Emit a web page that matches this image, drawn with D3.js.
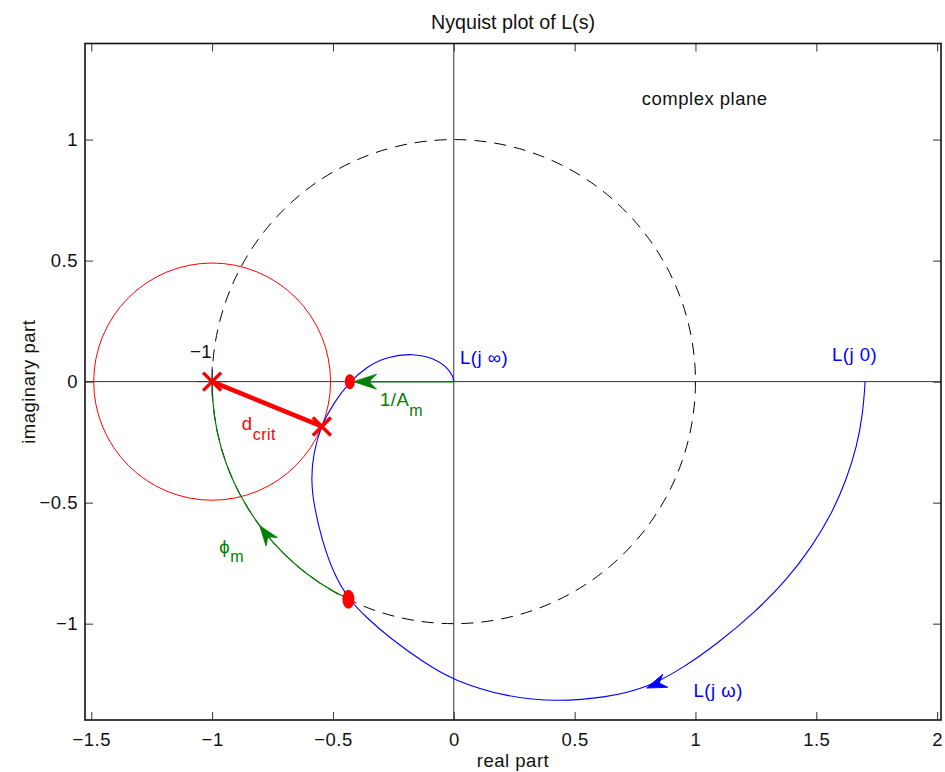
<!doctype html>
<html>
<head>
<meta charset="utf-8">
<script src="https://d3js.org/d3.v7.min.js"></script>
<style>
  body { margin: 0; background: #fff; }
  svg text { font-family: "Liberation Sans", Arial, Helvetica, sans-serif; letter-spacing: 0.5px; }
</style>
</head>
<body>
<div class="graph"></div>
<script>
// Nyquist curve L(jw) (real, imaginary)
var nyqRe = [1.702, 1.693, 1.668, 1.624, 1.565, 1.482, 1.378, 1.247, 1.094, 0.949, 0.798, 0.633,
             0.426, 0.219, 0.001, -0.126, -0.264, -0.361, -0.436, -0.498, -0.546, -0.578,
             -0.591, -0.581, -0.550, -0.498, -0.430, -0.360, -0.277, -0.167, -0.084, -0.029, -0.002, 0];
var nyqIm = [0, -0.131, -0.269, -0.406, -0.544, -0.682, -0.819, -0.952, -1.080, -1.183, -1.266, -1.305,
             -1.323, -1.303, -1.236, -1.159, -1.060, -0.975, -0.899, -0.792, -0.654, -0.516,
             -0.406, -0.296, -0.184, -0.089, 0, 0.062, 0.103, 0.117, 0.097, 0.062, 0.021, 0];

var xTicks = [-1.5, -1, -0.5, 0, 0.5, 1, 1.5, 2];
var yTicks = [-1, -0.5, 0, 0.5, 1];

var critPoint = [-1, 0];
var dcritPoint = [-0.546, -0.185];
var dcritRadius = 0.49;
var unitRadius = 1;
var gmPoint = [-0.43, 0];
var gmArrowTip = -0.415;
var pmPoint = [-0.436, -0.899];
var pmArrowAngle = -143.4;          // degrees, on the unit circle
var omegaArrow = [[0.87, -1.238], [0.798, -1.266]];   // tail -> tip

var width = 945, height = 772;
var pLeft = 85, pRight = 941, pTop = 43.5, pBottom = 720;

var svg = d3.select('.graph').append('svg')
  .attr('width', width).attr('height', height);

var x = d3.scaleLinear().domain([-1.526, 2.016]).range([pLeft, pRight]);
var y = d3.scaleLinear().domain([-1.398, 1.397]).range([pBottom, pTop]);
var fmt = d3.format('~g');

// axes, ticks inside like matlab
function styleAxis(g) {
  g.select('.domain').remove();
  g.selectAll('line').attr('stroke', '#333');
  g.selectAll('text').attr('fill', '#111').style('font-size', '18.5px')
   .style('font-family', '"Liberation Sans", Arial, sans-serif');
}
svg.append('g').attr('transform', 'translate(0,' + pBottom + ')')
  .call(d3.axisBottom(x).tickValues(xTicks).tickFormat(fmt).tickSizeInner(-8).tickSizeOuter(0).tickPadding(13))
  .call(styleAxis);
svg.append('g').attr('transform', 'translate(0,' + pTop + ')')
  .call(d3.axisTop(x).tickValues(xTicks).tickFormat('').tickSizeInner(-8).tickSizeOuter(0))
  .call(styleAxis);
svg.append('g').attr('transform', 'translate(' + pLeft + ',0)')
  .call(d3.axisLeft(y).tickValues(yTicks).tickFormat(fmt).tickSizeInner(-8).tickSizeOuter(0).tickPadding(7))
  .call(styleAxis);
svg.append('g').attr('transform', 'translate(' + pRight + ',0)')
  .call(d3.axisRight(y).tickValues(yTicks).tickFormat('').tickSizeInner(-8).tickSizeOuter(0))
  .call(styleAxis);

// real / imaginary axis lines
svg.append('line').attr('x1', pLeft).attr('x2', pRight).attr('y1', y(0)).attr('y2', y(0))
  .attr('stroke', '#333').attr('stroke-width', 1);
svg.append('line').attr('x1', x(0)).attr('x2', x(0)).attr('y1', pTop).attr('y2', pBottom)
  .attr('stroke', '#333').attr('stroke-width', 1);

// unit circle
svg.append('ellipse')
  .attr('cx', x(0)).attr('cy', y(0))
  .attr('rx', x(unitRadius) - x(0)).attr('ry', y(0) - y(unitRadius))
  .attr('fill', 'none').attr('stroke', '#000').attr('stroke-width', 1)
  .attr('stroke-dasharray', '12,8');

// d_crit circle round -1
svg.append('ellipse')
  .attr('cx', x(critPoint[0])).attr('cy', y(critPoint[1]))
  .attr('rx', x(dcritRadius) - x(0)).attr('ry', y(0) - y(dcritRadius))
  .attr('fill', 'none').attr('stroke', 'red').attr('stroke-width', 1);

// nyquist curve
var pts = nyqRe.map(function(d, i) { return [d, nyqIm[i]]; });
var line = d3.line()
  .x(function(d) { return x(d[0]); })
  .y(function(d) { return y(d[1]); })
  .curve(d3.curveBasis);
svg.append('path').datum(pts).attr('d', line)
  .attr('fill', 'none').attr('stroke', 'blue').attr('stroke-width', 1.1);

// phase margin arc on the unit circle
var rUnit = x(unitRadius) - x(0);
var a0 = -Math.atan2(pmPoint[1], pmPoint[0]);
var arcPath = d3.path();
arcPath.arc(x(0), y(0), rUnit, a0, Math.PI, false);
svg.append('path').attr('d', arcPath.toString())
  .attr('fill', 'none').attr('stroke', '#008000').attr('stroke-width', 1.2);

// gain margin line
svg.append('line').attr('x1', x(0)).attr('x2', x(gmArrowTip))
  .attr('y1', y(0)).attr('y2', y(0))
  .attr('stroke', '#008000').attr('stroke-width', 1.5);

function arrowHead(tx, ty, ang, len, hw, color) {
  var shape = [[0, 0], [-len, -hw], [-0.68 * len, 0], [-len, hw]];
  svg.append('polygon')
    .attr('points', shape.map(function(p) { return p.join(','); }).join(' '))
    .attr('transform', 'translate(' + tx + ',' + ty + ') rotate(' + ang + ')')
    .attr('fill', color).attr('stroke', color).attr('stroke-width', 0.8);
}

// arrow on L(jw)
var ta = omegaArrow[0], tb = omegaArrow[1];
arrowHead(x(tb[0]), y(tb[1]),
  Math.atan2(y(tb[1]) - y(ta[1]), x(tb[0]) - x(ta[0])) * 180 / Math.PI, 20, 7, 'blue');
// arrow on 1/Am
arrowHead(x(gmArrowTip), y(0), 180, 23, 7.5, '#008000');
// arrow on phi_m
var pa = -pmArrowAngle * Math.PI / 180;
var pax = x(0) + rUnit * Math.cos(pa), pay = y(0) + rUnit * Math.sin(pa);
arrowHead(pax, pay, Math.atan2(Math.cos(pa), -Math.sin(pa)) * 180 / Math.PI, 20, 7, '#008000');

// small black + under the critical point
svg.append('path')
  .attr('d', 'M' + x(critPoint[0]) + ',' + (y(critPoint[1]) - 15) + 'v30M' + (x(critPoint[0]) - 15) + ',' + y(critPoint[1]) + 'h30')
  .attr('stroke', '#333').attr('stroke-width', 1);

// d_crit segment
svg.append('line')
  .attr('x1', x(critPoint[0])).attr('y1', y(critPoint[1]))
  .attr('x2', x(dcritPoint[0])).attr('y2', y(dcritPoint[1]))
  .attr('stroke', 'red').attr('stroke-width', 4.5);

svg.selectAll('.xmark').data([critPoint, dcritPoint]).enter().append('path')
  .attr('class', 'xmark')
  .attr('d', function(d) {
    var cx = x(d[0]), cy = y(d[1]), s = 9;
    return 'M' + (cx - s) + ',' + (cy - s) + 'L' + (cx + s) + ',' + (cy + s) +
           'M' + (cx - s) + ',' + (cy + s) + 'L' + (cx + s) + ',' + (cy - s);
  })
  .attr('stroke', 'red').attr('stroke-width', 3.5).attr('fill', 'none');

// margin dots
svg.append('ellipse').attr('cx', x(gmPoint[0])).attr('cy', y(gmPoint[1]))
  .attr('rx', 5).attr('ry', 7.5).attr('fill', 'red');
svg.append('ellipse').attr('cx', x(pmPoint[0])).attr('cy', y(pmPoint[1]))
  .attr('rx', 6).attr('ry', 9.5).attr('fill', 'red');

// box
svg.append('rect').attr('x', pLeft).attr('y', pTop)
  .attr('width', pRight - pLeft).attr('height', pBottom - pTop)
  .attr('fill', 'none').attr('stroke', '#111').attr('stroke-width', 1.6);

// texts
function label(px, py, txt, color, anchor) {
  return svg.append('text').attr('x', px).attr('y', py)
    .attr('fill', color).attr('text-anchor', anchor || 'start')
    .style('font-size', '18.5px').text(txt);
}
svg.append('text').attr('x', (pLeft + pRight) / 2).attr('y', 29)
  .attr('text-anchor', 'middle').style('font-size', '19.7px').style('letter-spacing', '0px')
  .attr('fill', '#111').text('Nyquist plot of L(s)');
label((pLeft + pRight) / 2, 767, 'real part', '#111', 'middle');
svg.append('text').attr('transform', 'translate(35,' + ((pTop + pBottom) / 2) + ') rotate(-90)')
  .attr('text-anchor', 'middle').style('font-size', '18.5px').attr('fill', '#111')
  .text('imaginary part');

label(x(0.778), y(1.143), 'complex plane', '#111');
label(x(-1.0), y(0.098), '\u22121', '#111', 'end');
label(x(1.565), y(0.087), 'L(j 0)', 'blue');
label(x(0.026), y(0.073), 'L(j \u221e)', 'blue');
label(x(0.992), y(-1.303), 'L(j \u03c9)', 'blue');

var t1 = label(x(-0.305), y(-0.1), '1/A', '#008000');
t1.append('tspan').attr('dy', 10).style('font-size', '16px').text('m');
var t2 = label(x(-0.877), y(-0.2), 'd', 'red');
t2.append('tspan').attr('dy', 10).style('font-size', '16px').text('crit');
var t3 = label(x(-0.97), y(-0.708), '\u03d5', '#008000');
t3.append('tspan').attr('dy', 9).style('font-size', '16px').text('m');
</script>
</body>
</html>
